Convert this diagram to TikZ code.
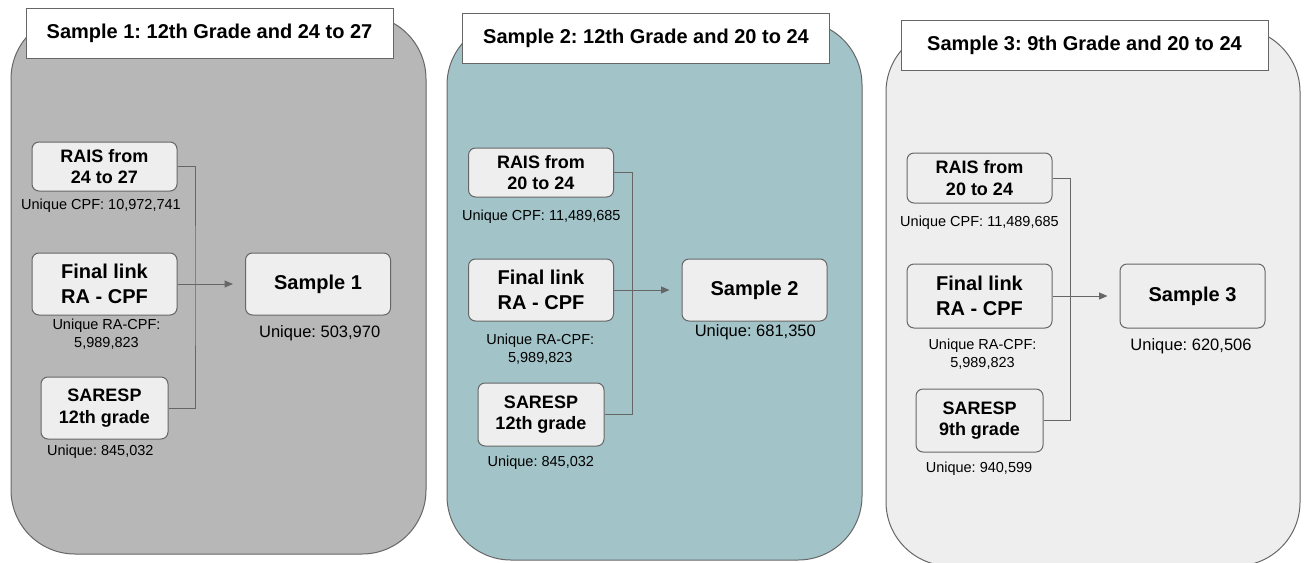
\documentclass[tikz,border=0pt]{standalone}
\usepackage{fontspec}
\setmainfont{Liberation Sans}
\frenchspacing
\usetikzlibrary{arrows.meta}
\definecolor{linecol}{HTML}{666666}
\definecolor{boxfill}{HTML}{EEEEEE}
\definecolor{pone}{HTML}{B7B7B7}
\definecolor{ptwo}{HTML}{A2C4C9}
\definecolor{pthree}{HTML}{EEEEEE}
\tikzset{
  panel/.style={draw=linecol, line width=1pt, rounded corners=64pt},
  titlebox/.style={draw=linecol, fill=white, line width=1pt, inner sep=0pt,
    minimum width=367pt, minimum height=50pt,
    font=\bfseries\fontsize{20}{24}\selectfont},
  srcbox/.style={draw=linecol, fill=boxfill, line width=1pt, rounded corners=7pt,
    inner sep=0pt, align=center, minimum width=145pt, minimum height=49pt,
    font=\bfseries\fontsize{18}{21.7}\selectfont},
  linkbox/.style={srcbox, minimum height=62pt, font=\bfseries\fontsize{20}{25}\selectfont},
  sarbox/.style={srcbox, minimum width=127pt, minimum height=62pt},
  sampbox/.style={srcbox, minimum height=62pt, font=\bfseries\fontsize{20}{24}\selectfont},
  lab/.style={anchor=base, inner sep=0pt, font=\fontsize{14.5}{17}\selectfont},
  biglab/.style={anchor=base, inner sep=0pt, font=\fontsize{16.5}{19}\selectfont},
  conn/.style={draw=linecol, line width=1pt},
  arr/.style={conn, -{Triangle[length=8.5pt,width=7pt]}, shorten >=12pt}
}
\begin{document}
\begin{tikzpicture}[x=1pt,y=-1pt]
\useasboundingbox (0,0) rectangle (1305,562);
\clip (0,0) rectangle (1305,562);
\fill[white] (0,0) rectangle (1305,562);

% panels
\draw[panel, fill=pone] (11,15) rectangle (426,554);
\draw[panel, fill=ptwo] (447,21) rectangle (862,560);
\draw[panel, fill=pthree] (886,28) rectangle (1300,566);

% titles
\node[titlebox] (t1) at (209.5,33) {Sample 1: 12th Grade and 24 to 27};
\node[titlebox] (t2) at (646,38.5) {Sample 2: 12th Grade and 20 to 24};
\node[titlebox] (t3) at (1084.5,45) {Sample 3: 9th Grade and 20 to 24};

% ---------- panel 1
\node[srcbox] (rais1) at (104.5,166.5) {RAIS from\\24 to 27};
\node[linkbox] (fin1) at (104.5,284) {Final link\\RA - CPF};
\node[sarbox] (sar1) at (104.5,408) {SARESP\\12th grade};
\node[sampbox] (samp1) at (318,284) {Sample 1};
\coordinate (j1) at (195,284);
\draw[conn] (rais1.east) -| (j1) |- (sar1.east);
\draw[arr] (fin1.east) -- (samp1.west);
\node[lab] (u1a) at (101,209) {Unique CPF: 10,972,741};
\node[lab] (u1b) at (106.5,329) {Unique RA-CPF:};
\node[lab] (u1c) at (106.5,347) {5,989,823};
\node[lab] (u1d) at (100.3,455) {Unique: 845,032};
\node[biglab] (u1e) at (319.7,337) {Unique: 503,970};

% ---------- panel 2
\node[srcbox] (rais2) at (541,172.5) {RAIS from\\20 to 24};
\node[linkbox] (fin2) at (541,290) {Final link\\RA - CPF};
\node[sarbox, minimum width=126pt, minimum height=63pt] (sar2) at (541,414.5) {SARESP\\12th grade};
\node[sampbox] (samp2) at (754.5,290) {Sample 2};
\coordinate (j2) at (632,290);
\draw[conn] (rais2.east) -| (j2) |- (sar2.east);
\draw[arr] (fin2.east) -- (samp2.west);
\node[lab] (u2a) at (541.3,220) {Unique CPF: 11,489,685};
\node[lab] (u2b) at (540.3,344) {Unique RA-CPF:};
\node[lab] (u2c) at (540.3,362) {5,989,823};
\node[lab] (u2d) at (540.8,466) {Unique: 845,032};
\node[biglab] (u2e) at (755.3,336.7) {Unique: 681,350};

% ---------- panel 3
\node[srcbox, minimum height=50pt] (rais3) at (979.5,178) {RAIS from\\20 to 24};
\node[linkbox, minimum height=64pt] (fin3) at (979.5,296) {Final link\\RA - CPF};
\node[sarbox, minimum height=63pt] (sar3) at (979.5,420.5) {SARESP\\9th grade};
\node[sampbox, minimum height=64pt] (samp3) at (1192.5,296) {Sample 3};
\coordinate (j3) at (1070,296);
\draw[conn] (rais3.east) -| (j3) |- (sar3.east);
\draw[arr] (fin3.east) -- (samp3.west);
\node[lab] (u3a) at (979.5,226) {Unique CPF: 11,489,685};
\node[lab] (u3b) at (982.5,349.3) {Unique RA-CPF:};
\node[lab] (u3c) at (982.5,367.3) {5,989,823};
\node[lab] (u3d) at (979,472.7) {Unique: 940,599};
\node[biglab] (u3e) at (1191,350) {Unique: 620,506};
\end{tikzpicture}
\end{document}
